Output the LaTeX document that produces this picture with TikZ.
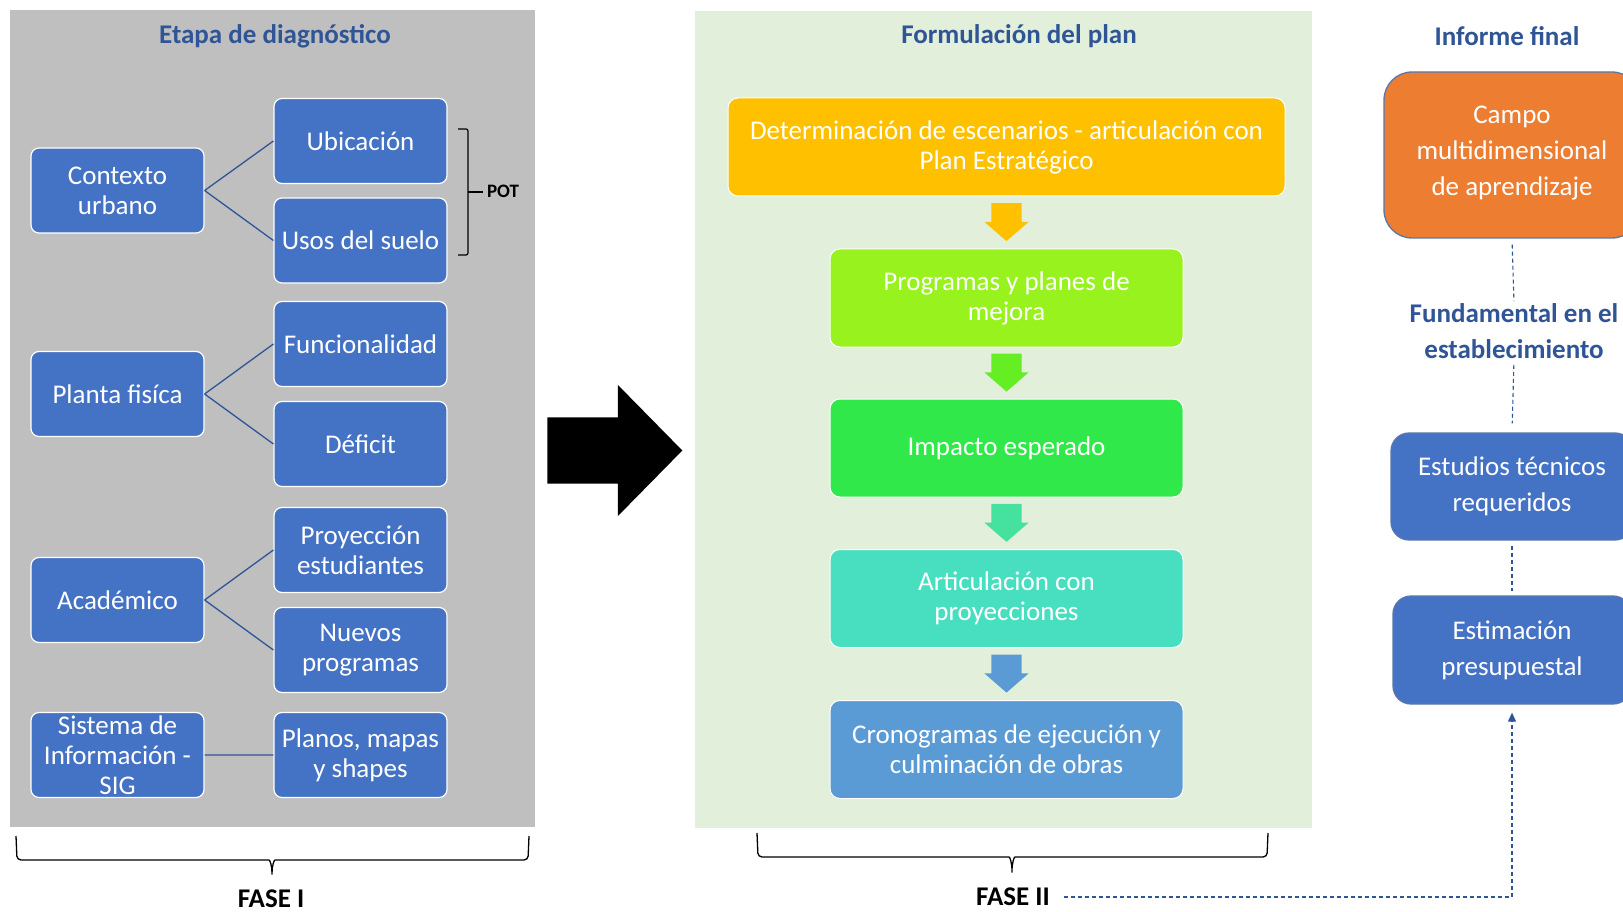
\documentclass[tikz,border=0pt]{standalone}
\usepackage{fontspec}
\setmainfont{Carlito}
\usetikzlibrary{shapes.arrows,calc,arrows.meta}
\definecolor{boxblue}{HTML}{4472C4}
\definecolor{titleblue}{HTML}{2F5597}
\definecolor{panelgrey}{HTML}{BFBFBF}
\definecolor{panelgreen}{HTML}{E2EFDA}

\begin{document}
\begin{tikzpicture}[x=1pt,y=-1pt,
    every node/.style={font=\fontsize{27}{30}\selectfont},
    box/.style={draw=white,line width=1.2pt,fill=boxblue,text=white,rounded corners=8pt,
      minimum width=173pt,minimum height=85pt,align=center,inner sep=1pt},
    flow/.style={draw=white,line width=1pt,text=white,rounded corners=10pt,
      minimum width=353pt,minimum height=98pt,align=center,inner sep=2pt},
    final/.style={draw=titleblue!80,line width=1.3pt,text=white,rounded corners=18pt,
      align=center,font=\fontsize{27}{36}\selectfont},
    downarr/.style={single arrow,rotate=-90,minimum height=38pt,minimum width=44pt,
      inner xsep=0pt,inner ysep=15pt,single arrow head extend=7pt,single arrow tip angle=98},
    ttl/.style={text=titleblue,font=\fontsize{27}{36}\selectfont\bfseries,align=center},
    fase/.style={font=\fontsize{27}{30}\selectfont\bfseries,inner sep=0pt},
    link/.style={titleblue,line width=1.3pt},
    dlink/.style={titleblue,line width=1.1pt,dash pattern=on 4pt off 3pt}]
  \clip (0,0) rectangle (1623,912);
  \fill[white] (0,0) rectangle (1623,912);
  \fill[panelgrey] (10,10) rectangle (535,827);
  \fill[panelgreen] (695,11) rectangle (1312,828);

  % etapa de diagnostico
  \node[ttl] (t1) at (275,36) {Etapa de diagnóstico};
  \node[box] (ctx) at (117.5,190.5) {Contexto\\urbano};
  \node[box] (ubi) at (360.5,141) {Ubicación};
  \node[box] (usos) at (360.5,240.5) {Usos del suelo};
  \node[box] (planta) at (117.5,394) {Planta fisíca};
  \node[box] (func) at (360.5,344) {Funcionalidad};
  \node[box] (defi) at (360.5,444) {Déficit};
  \node[box] (acad) at (117.5,600) {Académico};
  \node[box] (proy) at (360.5,550) {Proyección\\estudiantes};
  \node[box] (nuevos) at (360.5,650) {Nuevos\\programas};
  \node[box] (sig) at (117.5,755) {Sistema de\\Información -\\SIG};
  \node[box] (planos) at (360.5,755) {Planos, mapas\\y shapes};
  \draw[link] (ctx.east) -- (ubi.west) (ctx.east) -- (usos.west)
    (planta.east) -- (func.west) (planta.east) -- (defi.west)
    (acad.east) -- (proy.west) (acad.east) -- (nuevos.west)
    (sig.east) -- (planos.west);
  \draw[line width=1.2pt,rounded corners=2pt] (458,129) -- (468,129) -- (468,255) -- (458,255);
  \draw[line width=1.2pt] (468,192) -- (483,192);
  \node[font=\fontsize{19}{22}\selectfont\bfseries] (pot) at (503,191) {POT};

  % flecha
  \node[single arrow,fill=black,minimum height=135pt,inner xsep=0pt,inner ysep=33pt,
    single arrow head extend=32.5pt,single arrow tip angle=91] (big) at (598.5,450.5) {};

  % formulacion del plan
  \node[ttl] (t2) at (1019,36) {Formulación del plan};
  \node[flow,fill={rgb,255:red,255;green,192;blue,0},minimum width=557pt] (det) at (1006.5,147)
    {Determinación de escenarios - articulación con\\Plan Estratégico};
  \node[flow,fill={rgb,255:red,151;green,242;blue,30}] (prog) at (1006.5,298) {Programas y planes de\\mejora};
  \node[flow,fill={rgb,255:red,48;green,232;blue,73}] (imp) at (1006.5,448) {Impacto esperado};
  \node[flow,fill={rgb,255:red,72;green,223;blue,193}] (artic) at (1006.5,598.5) {Articulación con\\proyecciones};
  \node[flow,fill={rgb,255:red,91;green,155;blue,213}] (crono) at (1006.5,749.5) {Cronogramas de ejecución y\\culminación de obras};
  \node[downarr,fill={rgb,255:red,255;green,192;blue,0}] (a1) at ($(det.south)!0.5!(prog.north)+(0,-7)$) {};
  \node[downarr,fill={rgb,255:red,102;green,238;blue,36}] (a2) at ($(prog.south)!0.5!(imp.north)+(0,-7)$) {};
  \node[downarr,fill={rgb,255:red,68;green,226;blue,158}] (a3) at ($(imp.south)!0.5!(artic.north)+(0,-7)$) {};
  \node[downarr,fill={rgb,255:red,91;green,155;blue,213}] (a4) at ($(artic.south)!0.5!(crono.north)+(0,-7)$) {};

  % informe final
  \node[ttl] (t3) at (1507,36) {Informe final};
  \node[final,fill={rgb,255:red,237;green,125;blue,49},rounded corners=28pt,
    minimum width=256pt,minimum height=166pt] (campo) at (1512,155) {Campo\\multidimensional\\de aprendizaje\\[-28pt]};
  \node[ttl,inner sep=0pt] (fund) at (1514,331) {Fundamental en el\\establecimiento};
  \node[final,fill=boxblue,minimum width=242pt,minimum height=107pt] (estud) at (1512,486.5) {Estudios técnicos\\requeridos};
  \node[final,fill=boxblue,minimum width=238pt,minimum height=108pt] (presu) at (1512,650) {Estimación\\presupuestal};
  \draw[dlink,shorten <=6pt,shorten >=2pt] (campo.south) -- (fund.north);
  \draw[dlink,shorten <=6pt,shorten >=9pt] (fund.south) -- (estud.north);
  \draw[dlink,shorten <=5pt,shorten >=4pt] (estud.south) -- (presu.north);

  % fases
  \draw[line width=1.3pt,rounded corners=4pt] (16,836) -- (17,860) -- (265,860)
    .. controls (270,860) and (272,866) .. (272,877) .. controls (272,866) and (274,860) .. (279,860)
    -- (528,860) -- (529,836);
  \node[fase] (f1) at (271,899) {FASE I};
  \draw[line width=1.3pt,rounded corners=4pt] (757,833) -- (758,857) -- (1005,857)
    .. controls (1010,857) and (1012,863) .. (1012,875) .. controls (1012,863) and (1014,857) .. (1019,857)
    -- (1267,857) -- (1268,833);
  \node[fase] (f2) at (1013,897) {FASE II};
  \draw[dlink,-{Triangle[length=9pt,width=8pt]},shorten <=14pt,shorten >=8pt] (f2.east) -| (presu.south);
\end{tikzpicture}
\end{document}
